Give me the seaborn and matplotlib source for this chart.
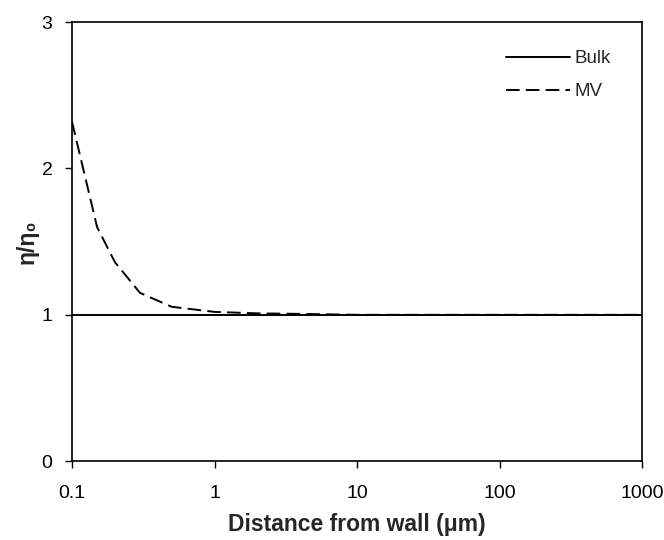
import matplotlib
matplotlib.use("Agg")
import matplotlib.pyplot as plt
import seaborn as sns
import pandas as pd
from matplotlib.ticker import FixedLocator, FixedFormatter, NullLocator

# Data
bulk_x = [0.1, 1000]
bulk_y = [1.0, 1.0]
mv_x = [0.1, 0.15, 0.2, 0.3, 0.5, 1, 2, 5, 10, 100, 1000]
mv_y = [2.32, 1.60, 1.36, 1.15, 1.055, 1.02, 1.01, 1.005, 1.0, 1.0, 1.0]
xticks = [0.1, 1, 10, 100, 1000]
xticklabels = ["0.1", "1", "10", "100", "1000"]
yticks = [0, 1, 2, 3]

sns.set_style("ticks")
plt.rcParams['font.family'] = ['Liberation Sans', 'DejaVu Sans']

fig = plt.figure(figsize=(6.64, 5.40), dpi=100)
ax = fig.add_axes([0.1084, 0.146, 0.967 - 0.1084, 0.959 - 0.146])

df_bulk = pd.DataFrame({"x": bulk_x, "y": bulk_y})
df_mv = pd.DataFrame({"x": mv_x, "y": mv_y})
sns.lineplot(data=df_bulk, x="x", y="y", ax=ax, color="black", lw=1.4, label="Bulk")
sns.lineplot(data=df_mv, x="x", y="y", ax=ax, color="black", lw=1.4, label="MV",
             linestyle=(0, (7, 3.2)))

ax.set_xscale("log")
ax.set_xlim(0.1, 1000)
ax.set_ylim(0, 3)
ax.xaxis.set_major_locator(FixedLocator(xticks))
ax.xaxis.set_major_formatter(FixedFormatter(xticklabels))
ax.xaxis.set_minor_locator(NullLocator())
ax.set_yticks(yticks)
ax.set_yticklabels([str(t) for t in yticks])

for s in ax.spines.values():
    s.set_visible(True)
    s.set_color("black")
    s.set_linewidth(1.2)

ax.tick_params(axis="both", direction="out", length=5, width=1.0, colors="black",
               labelsize=14)
ax.tick_params(axis="x", pad=12)
ax.tick_params(axis="y", pad=9)

ax.set_xlabel("Distance from wall (\u03bcm)", fontsize=16.5, fontweight="bold", labelpad=8)
ax.set_ylabel("\u03b7/\u03b7\u2080", fontsize=16.5, fontweight="bold", labelpad=2)

leg = ax.legend(loc="upper right", frameon=False, fontsize=13.5, handlelength=3.4,
                handletextpad=0.25, labelspacing=0.85, bbox_to_anchor=(0.975, 0.975))

fig.savefig("out.png", dpi=100)
